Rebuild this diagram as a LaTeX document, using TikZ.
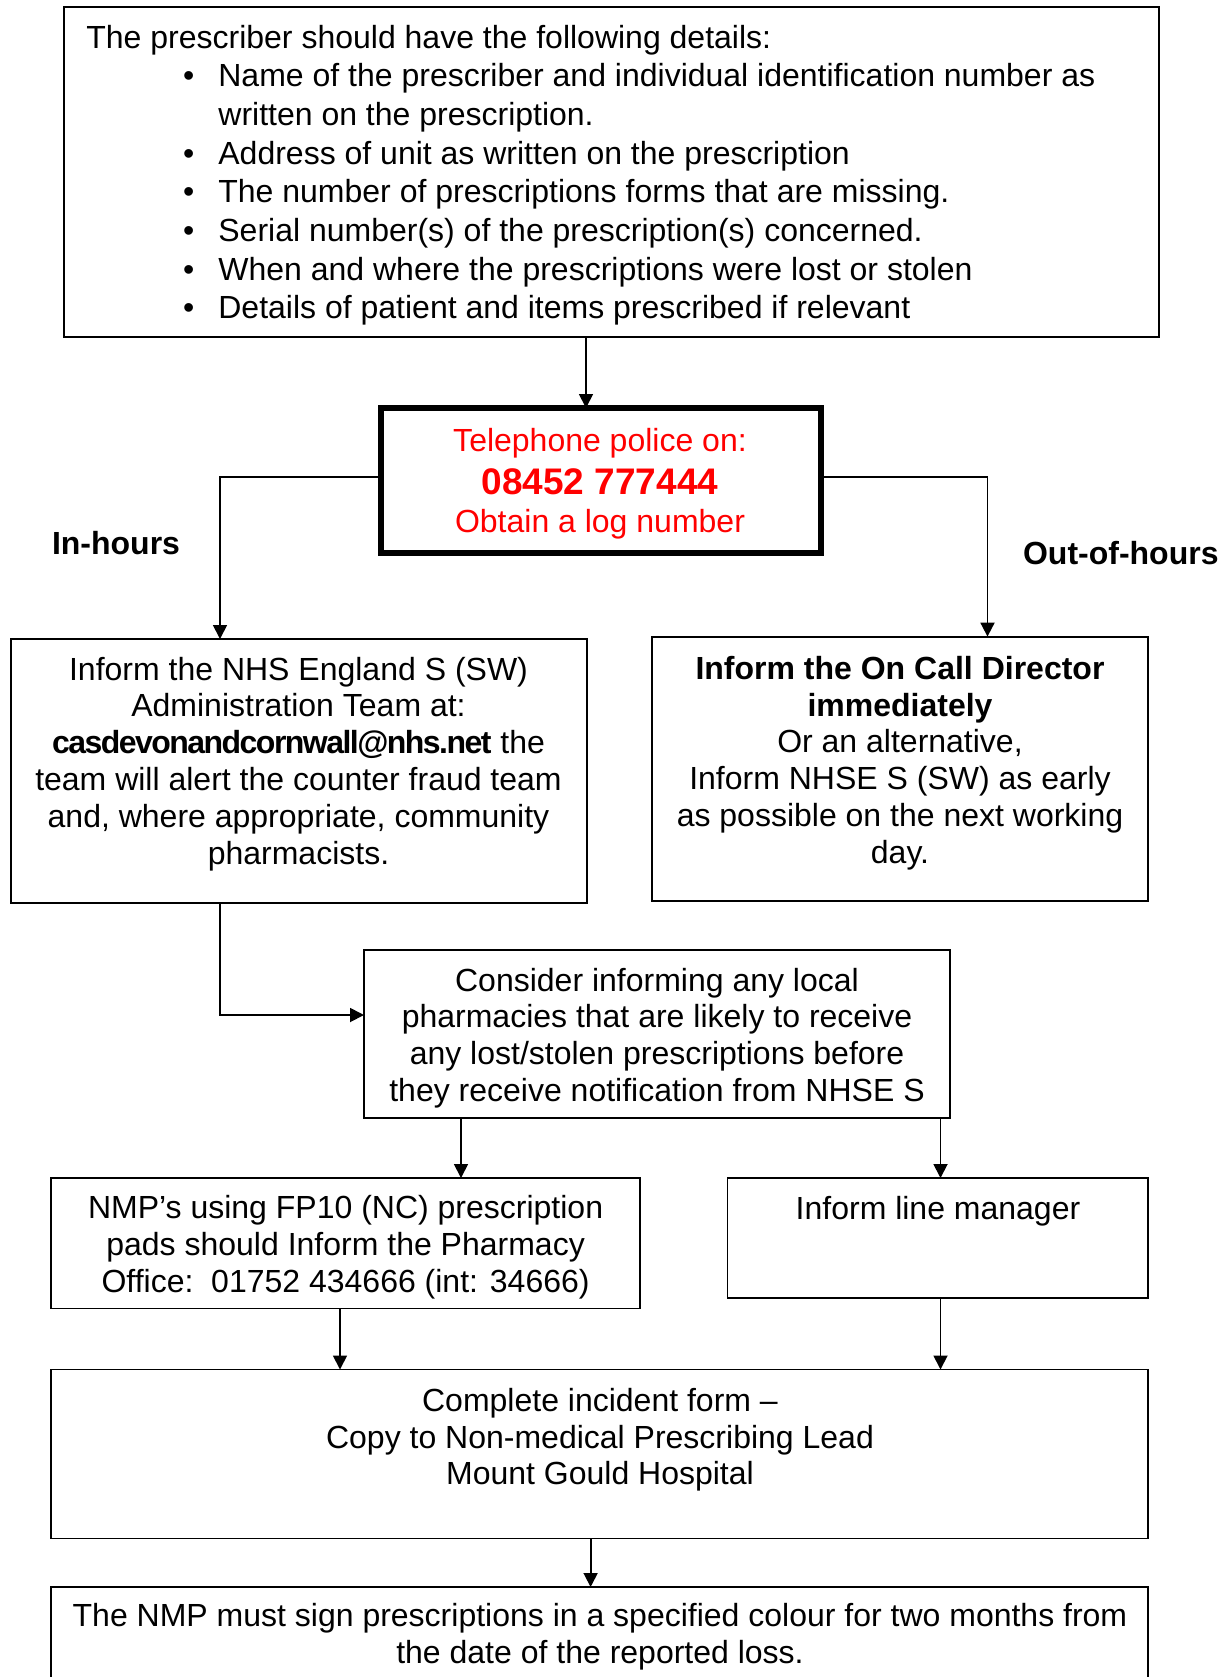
\documentclass[tikz,border=0pt]{standalone}
\usepackage{fontspec}
\setmainfont{Liberation Sans}
\usetikzlibrary{arrows.meta,fit}
\definecolor{pred}{RGB}{255,0,0}
\newcommand\bul{\hspace*{48.3pt}\makebox[17.7pt][l]{\textbullet}}
\newcommand\email[1]{{\bfseries\addfontfeatures{LetterSpace=-4.8}#1}}
\tikzset{
  box/.style={draw=black, line width=0.9pt, inner sep=0pt, outer sep=0pt, rectangle},
  txt/.style={inner sep=0pt, align=center, font=\fontsize{16}{18.4}\selectfont,
    execute at begin node=\strut, execute at end node=\strut},
  arr/.style={draw=black, line width=0.9pt, -{Triangle[length=7pt,width=7pt]}},
  lab/.style={inner sep=0pt, font=\fontsize{16}{18.4}\selectfont\bfseries},
}
\begin{document}
\begin{tikzpicture}[x=0.5pt,y=-0.5pt]
\useasboundingbox (0,0) rectangle (1225,1677);
\clip (0,0) rectangle (1225,1677);
\fill[white] (0,0) rectangle (1225,1677);
% boxes
\node[box, fit={(64,7) (1159,337)}] (b1) {};
\node[box, line width=3pt, fit={(381,408) (821,553)}] (b2) {};
\node[box, fit={(10.7,639) (587,903)}] (b3) {};
\node[box, fit={(651.6,636.6) (1148,901)}] (b4) {};
\node[box, fit={(364,950) (950,1118)}] (b5) {};
\node[box, fit={(51,1178) (640,1308.5)}] (b6) {};
\node[box, fit={(727.5,1178) (1148,1298)}] (b7) {};
\node[box, fit={(51,1369.5) (1148,1538.5)}] (b8) {};
\node[box, fit={(51,1587) (1148,1720)}] (b9) {};
% texts
\node[txt, align=left, anchor=west, font=\fontsize{16}{19.33}\selectfont] (t1) at (86,177.7) {The prescriber should have the following details:\\
\bul Name of the prescriber and individual identification number as\\
\hspace*{66pt}written on the prescription.\\
\bul Address of unit as written on the prescription\\
\bul The number of prescriptions forms that are missing.\\
\bul Serial number(s) of the prescription(s) concerned.\\
\bul When and where the prescriptions were lost or stolen\\
\bul Details of patient and items prescribed if relevant};
\node[txt, text=pred, font=\fontsize{16}{20}\selectfont] (t2) at (600,486.5) {Telephone police on:\\[1.5pt]{\fontsize{18.5}{20}\selectfont\bfseries 08452 777444}\\[-1pt]Obtain a log number};
\node[txt] (t3) at (298.5,766) {Inform the NHS England S (SW)\\Administration Team at:\\\email{casdevonandcornwall@nhs.net} the\\team will alert the counter fraud team\\and, where appropriate, community\\pharmacists.};
\node[txt] (t4) at (900,765.3) {\textbf{Inform the On Call Director}\\\textbf{immediately}\\Or an alternative,\\Inform NHSE S (SW) as early\\as possible on the next working\\day.};
\node[txt] (t5) at (657,1040.3) {Consider informing any local\\pharmacies that are likely to receive\\any lost/stolen prescriptions before\\they receive notification from NHSE S};
\node[txt] (t6) at (345.6,1249.7) {NMP’s using FP10 (NC) prescription\\pads should Inform the Pharmacy\\Office:\ \ 01752 434666 (int: 34666)};
\node[txt] (t7) at (938,1212) {Inform line manager};
\node[txt] (t8) at (600,1442) {Complete incident form –\\Copy to Non-medical Prescribing Lead\\Mount Gould Hospital};
\node[txt] (t9) at (600,1638.8) {The NMP must sign prescriptions in a specified colour for two months from\\the date of the reported loss.};
% labels
\node[lab] (inh) at (116,543.5) {In-hours};
\node[lab] (ooh) at (1120.8,553) {Out-of-hours};
% connectors
\draw[arr] (b1.south -| 586,0) -- (b2.north -| 586,0);
\draw[arr] (b2.west |- 0,477) -| (b3.north -| 220,0);
\draw[arr] (b2.east |- 0,477) -| (b4.north -| 987.5,0);
\draw[arr] (b3.south -| 220,0) |- (b5.west |- 0,1015);
\draw[arr] (b5.south -| 461,0) -- (b6.north -| 461,0);
\draw[arr] (b5.south -| 940.5,0) -- (b7.north -| 940.5,0);
\draw[arr] (b6.south -| 340,0) -- (b8.north -| 340,0);
\draw[arr] (b7.south -| 940.5,0) -- (b8.north -| 940.5,0);
\draw[arr] (b8.south -| 590.6,0) -- (b9.north -| 590.6,0);
\end{tikzpicture}
\end{document}
